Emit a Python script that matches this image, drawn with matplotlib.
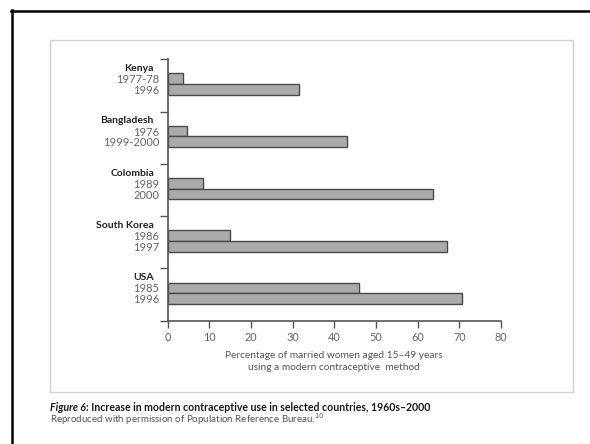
"""
Modern contraceptive use, selected countries (horizontal grouped bars)
"""
import matplotlib
matplotlib.use('Agg')
import matplotlib.pyplot as plt
from matplotlib.lines import Line2D
from matplotlib.patches import Rectangle
import numpy as np

# data
countries = ['Kenya', 'Bangladesh', 'Colombia', 'South Korea', 'USA']
years_early = ['1977-78', '1976', '1989', '1986', '1985']
years_late = ['1996', '1999-2000', '2000', '1997', '1996']
pct_early = [3.7, 4.7, 8.4, 14.9, 45.9]
pct_late = [31.6, 43.0, 63.6, 67.0, 70.7]
xticks = [0, 10, 20, 30, 40, 50, 60, 70, 80]

plt.rcParams['font.family'] = ['Lato', 'DejaVu Sans']

W, H = 590, 444
fig = plt.figure(figsize=(W / 100, H / 100), dpi=100)

def fx(px):
    return px / W

def fy(py):
    return 1 - py / H

# black page border (top and left only)
fig.add_artist(Line2D([fx(11), 1], [fy(11), fy(11)], color='black', lw=1.8))
fig.add_artist(Line2D([fx(12), fx(12)], [fy(10), 0], color='black', lw=1.8))

# light grey panel around the chart
fig.add_artist(Rectangle((fx(50), fy(392)), fx(572.5) - fx(50), fy(40) - fy(392),
                         fill=False, edgecolor='#d2d2d2', lw=1.0))

ax = fig.add_axes([fx(167.7), fy(320.7), fx(501) - fx(167.7), fy(59.3) - fy(320.7)])

y = np.arange(len(countries))
bar_h = 0.205
bar_kw = dict(height=bar_h, color='#ababab', edgecolor='#4a4a4a', linewidth=1.0, align='edge')
ax.barh(y, pct_early, **bar_kw)
ax.barh(y + bar_h, pct_late, **bar_kw)

ax.set_xlim(0, 80)
ax.set_ylim(4.73, -0.22)

# group separators on the y axis
ax.set_yticks(np.arange(len(countries) + 1) - 0.27)
ax.set_yticklabels([])
ax.set_xticks(xticks)
ax.set_xticklabels([str(t) for t in xticks], fontsize=7.8, color='#666666')

ax.tick_params(axis='y', direction='out', length=6, width=1.0, color='#555555')
ax.tick_params(axis='x', direction='out', length=5, width=1.0, color='#555555', pad=3)

for side in ['top', 'right']:
    ax.spines[side].set_visible(False)
for side in ['left', 'bottom']:
    ax.spines[side].set_color('#555555')
    ax.spines[side].set_linewidth(1.2)

# country and year labels to the left of the axis
for i, c in enumerate(countries):
    ax.text(-3.3, i - 0.09, c, ha='right', va='center', fontsize=7.5,
            fontweight='bold', color='#222222', clip_on=False)
    ax.text(-2.0, i + bar_h / 2 + 0.02, years_early[i], ha='right', va='center',
            fontsize=8, color='#666666', clip_on=False)
    ax.text(-2.0, i + 1.5 * bar_h + 0.02, years_late[i], ha='right', va='center',
            fontsize=8, color='#666666', clip_on=False)

# axis title
fig.text(fx(334), fy(355), 'Percentage of married women aged 15–49 years',
         ha='center', va='center', fontsize=7.3, color='#555555')
fig.text(fx(334), fy(368), 'using a modern contraceptive  method',
         ha='center', va='center', fontsize=7.3, color='#555555')

# caption
cap = fig.text(fx(50.5), fy(407), 'Figure 6', ha='left', va='center', fontsize=7.6,
               fontweight='bold', fontstyle='italic', color='#1a1a1a')
fig.canvas.draw()
bb = cap.get_window_extent()
fig.text(bb.x1 / W, fy(407), ': Increase in modern contraceptive use in selected countries, 1960s–2000',
         ha='left', va='center', fontsize=7.6, fontweight='bold', color='#1a1a1a')
fig.text(fx(50.5), fy(419.5), 'Reproduced with permission of Population Reference Bureau.$^{10}$',
         ha='left', va='center', fontsize=7.0, color='#555555')

plt.savefig('out.png', dpi=100)
plt.close()
